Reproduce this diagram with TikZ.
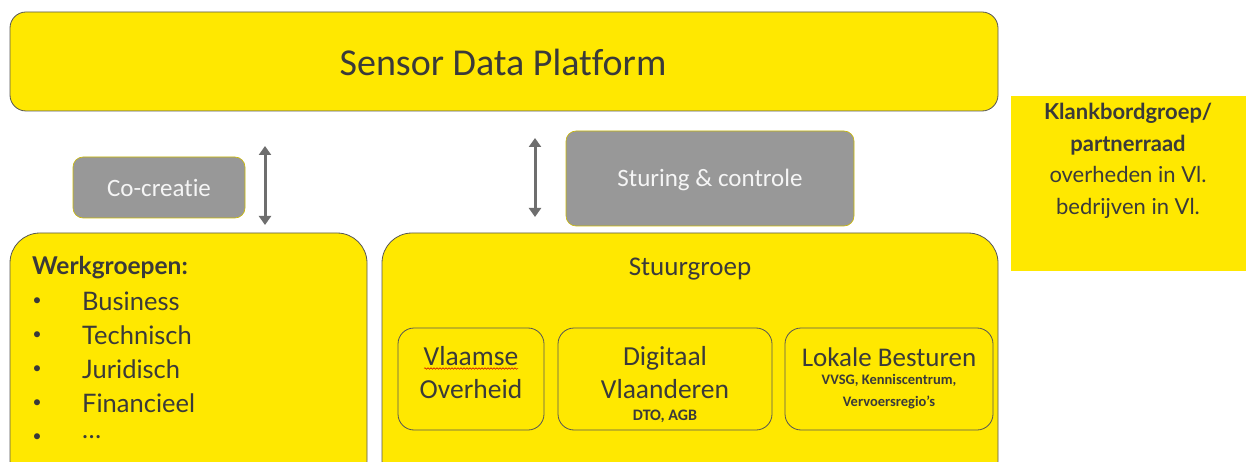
\documentclass[tikz,border=0pt]{standalone}
\usepackage{fontspec}
\setmainfont{Carlito}[Ligatures=NoCommon]
\newfontfamily\latofont{Lato}
\usetikzlibrary{arrows.meta,decorations.pathmorphing}
\definecolor{sdpyellow}{HTML}{FFE800}
\definecolor{sdpgray}{HTML}{989898}
\definecolor{sdpline}{HTML}{6E6E6E}
\definecolor{sdptext}{HTML}{3A3A3A}
\definecolor{sdpedge}{HTML}{555555}
\tikzset{
  ybox/.style={fill=sdpyellow, draw=sdpedge, line width=0.8pt},
  gbox/.style={fill=sdpgray, draw=sdpyellow!80!black, line width=0.6pt, rounded corners=10pt},
  ibox/.style={draw=sdpedge, line width=0.8pt, rounded corners=16pt},
  dblarrow/.style={draw=sdpline, line width=3pt, {Triangle[width=12pt,length=9pt]}-{Triangle[width=12pt,length=9pt]}},
  txt/.style={text=sdptext, inner sep=0pt, align=center},
  wtxt/.style={text=white!92!gray, inner sep=0pt, align=center},
}
\begin{document}
\begin{tikzpicture}[x=1pt,y=-1pt]
\useasboundingbox (0,0) rectangle (1246,462);
\clip (0,0) rectangle (1246,462);
\fill[white] (0,0) rectangle (1246,462);

% platform banner
\draw[ybox, rounded corners=16pt] (10,12) rectangle (998,111);
\node[txt, font=\fontsize{38}{44}\selectfont] (sdp) at (503,62) {Sensor Data Platform};

% grey role boxes
\draw[gbox] (73,157) rectangle (245,218);
\node[wtxt, font=\fontsize{25}{30}\selectfont] (cocreatie) at (159,188) {Co-creatie};
\draw[gbox] (566,131) rectangle (854,226);
\node[wtxt, font=\fontsize{25}{30}\selectfont] (sturing) at (710,180) {Sturing \& controle};

% vertical links
\coordinate (la) at (265,146);
\coordinate (lb) at (265,225);
\coordinate (ra) at (535,138);
\coordinate (rb) at (535,217);
\draw[dblarrow] (la) -- (lb);
\draw[dblarrow] (ra) -- (rb);

% sounding board
\fill[sdpyellow] (1011,96) rectangle (1246,271);
\node[txt, font=\latofont\fontsize{22}{31.5}\selectfont, anchor=north] (klank) at (1128,103)
  {\textbf{Klankbordgroep/}\\\textbf{partnerraad}\\overheden in Vl.\\bedrijven in Vl.};

% working groups
\draw[ybox, rounded corners=30pt] (10,233) rectangle (367,490);
\node[txt, anchor=west, font=\latofont\bfseries\fontsize{24.5}{28}\selectfont] (werk) at (32,268) {Werkgroepen:};
\foreach \t [count=\i] in {Business,Technisch,Juridisch,Financieel,\dots}{
  \node[txt, font=\fontsize{17}{20}\selectfont] (b\i) at (37,268+34*\i) {\textbullet};
  \node[txt, anchor=west, font=\latofont\fontsize{25.5}{30}\selectfont] (w\i) at (82,267+34*\i) {\t};
}

% steering group
\draw[ybox, rounded corners=30pt] (382,233) rectangle (998,490);
\node[txt, font=\fontsize{27}{32}\selectfont] (stuur) at (690,269) {Stuurgroep};

\draw[ibox] (398,328) rectangle (544,430);
\node[txt, font=\fontsize{27.5}{33}\selectfont] (vo) at (471,372.5) {Vlaamse\\Overheid};
\draw[red!80!black, line width=0.5pt, decorate, decoration={snake, amplitude=0.8pt, segment length=3pt}]
  (424,368.5) -- (518,368.5);

\draw[ibox] (558,328) rectangle (772,430);
\node[txt, font=\fontsize{27.5}{33}\selectfont] (dv) at (665,372.5) {Digitaal\\Vlaanderen};
\node[txt, font=\bfseries\fontsize{16}{18}\selectfont] (dto) at (665,416) {DTO, AGB};

\draw[ibox] (785,328) rectangle (993,430);
\node[txt, font=\fontsize{27}{32}\selectfont] (lb) at (889,357) {Lokale Besturen};
\node[txt, font=\bfseries\fontsize{14.5}{22}\selectfont] (vvsg) at (889,392) {VVSG, Kenniscentrum,\\Vervoersregio’s};
\end{tikzpicture}
\end{document}
